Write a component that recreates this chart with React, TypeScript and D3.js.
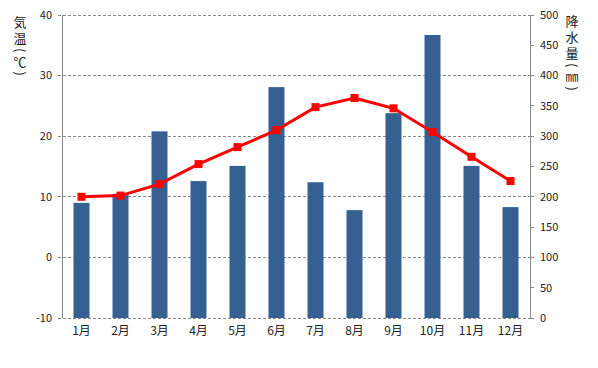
import React from 'react';
import * as d3 from 'd3';

const months = ['1月', '2月', '3月', '4月', '5月', '6月', '7月', '8月', '9月', '10月', '11月', '12月'];
const precip = [190, 205, 308, 226, 251, 381, 224, 178, 338, 467, 251, 183];
const temps = [10.0, 10.2, 12.1, 15.4, 18.2, 21.0, 24.8, 26.3, 24.6, 20.7, 16.6, 12.6];
const tempTicks = [-10, 0, 10, 20, 30, 40];
const precipTicks = [0, 50, 100, 150, 200, 250, 300, 350, 400, 450, 500];

const W = 598, H = 368;
const left = 62, right = 530, top = 15, bottom = 318;
const font = "'Noto Sans CJK JP', 'Noto Sans', sans-serif";

export default function App() {
  const x = d3.scaleBand<string>().domain(months).range([left, right]);
  const yT = d3.scaleLinear().domain([-10, 40]).range([bottom, top]);
  const yP = d3.scaleLinear().domain([0, 500]).range([bottom, top]);
  const cx = (m: string) => (x(m) as number) + x.bandwidth() / 2;
  const barW = 16;

  const line = d3.line<number>()
    .x((d, i) => cx(months[i]))
    .y(d => yT(d));

  return (
    <svg width={W} height={H} style={{ position: 'absolute', left: 0, top: 0, background: '#fff' }} fontFamily={font}>
      {/* gridlines */}
      {tempTicks.map(t => (
        <line key={'g' + t} x1={left - 4} x2={right} y1={yT(t)} y2={yT(t)}
          stroke="#888" strokeDasharray="3,2" strokeWidth={1} shapeRendering="crispEdges" />
      ))}
      {/* bars */}
      {precip.map((p, i) => (
        <rect key={'b' + i} x={cx(months[i]) - barW / 2} y={yP(p)} width={barW} height={bottom - yP(p)} fill="#376092" />
      ))}
      {/* axes */}
      <line x1={left} x2={left} y1={top} y2={bottom} stroke="#888" shapeRendering="crispEdges" />
      <line x1={right} x2={right} y1={top} y2={bottom} stroke="#888" shapeRendering="crispEdges" />
      {precipTicks.map(p => (
        <line key={'rt' + p} x1={right} x2={right + 4} y1={yP(p)} y2={yP(p)} stroke="#888" shapeRendering="crispEdges" />
      ))}
      {tempTicks.map(t => (
        <text key={'lt' + t} x={52} y={yT(t)} dy="0.35em" textAnchor="end" fontSize={11} fill="#222">{t}</text>
      ))}
      {precipTicks.map(p => (
        <text key={'rl' + p} x={540} y={yP(p)} dy="0.35em" textAnchor="start" fontSize={11} fill="#222">{p}</text>
      ))}
      {months.map(m => (
        <text key={'x' + m} x={cx(m)} y={335} textAnchor="middle" fontSize={12} fill="#222">{m}</text>
      ))}
      {/* temperature line */}
      <path d={line(temps) || ''} fill="none" stroke="#ff0000" strokeWidth={3} />
      {temps.map((t, i) => (
        <rect key={'m' + i} x={cx(months[i]) - 4} y={yT(t) - 4} width={8} height={8} fill="#ff0000" />
      ))}
      {/* axis titles */}
      <text x={20} y={16} fontSize={13} letterSpacing={3} fill="#222" style={{ writingMode: 'vertical-rl' }}>気温(℃)</text>
      <text x={572} y={15} fontSize={13} letterSpacing={3} fill="#222" style={{ writingMode: 'vertical-rl' }}>降水量(㎜)</text>
    </svg>
  );
}
